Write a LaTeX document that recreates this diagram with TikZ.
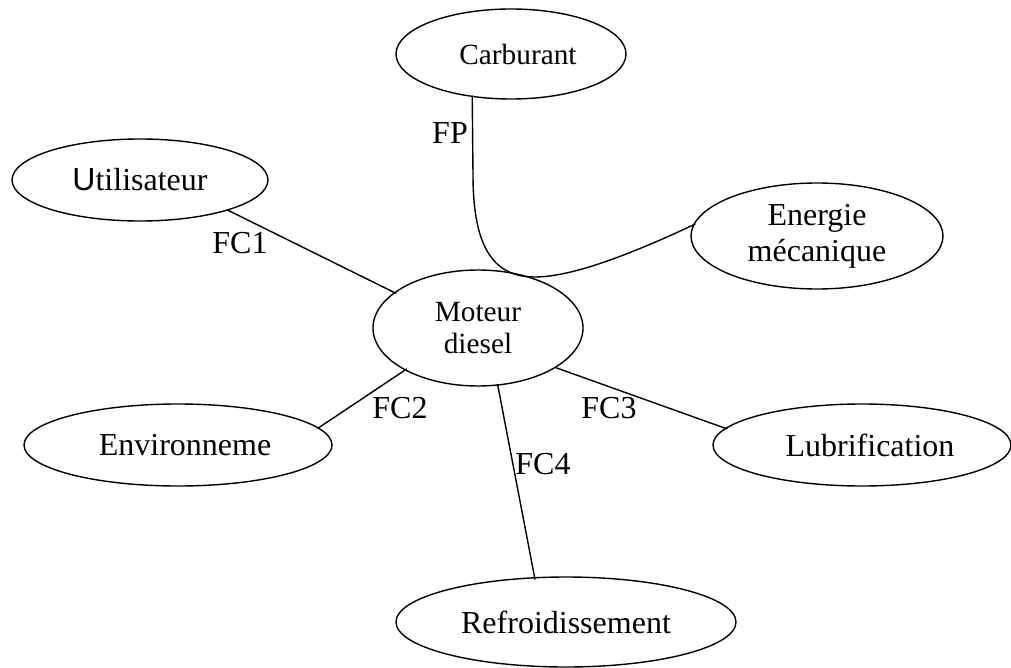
\documentclass[tikz,border=0pt]{standalone}
\usepackage{fontspec}
\setmainfont{Liberation Serif}
\newfontfamily\arialU{Liberation Sans}
\usetikzlibrary{shapes.geometric}
\begin{document}
\begin{tikzpicture}[x=1pt,y=-1pt,
  ell/.style={ellipse, draw, line width=1.4pt, inner sep=0pt, align=center,
              font=\fontsize{32}{36}\selectfont},
  small/.style={font=\fontsize{29.3}{31.5}\selectfont},
  conn/.style={line width=1.4pt, shorten <=-1.5pt, shorten >=-2.5pt},
  lbl/.style={font=\fontsize{32}{36}\selectfont, inner sep=0pt}]
\useasboundingbox (0,0) rectangle (1011,668);

\node[ell, small, minimum width=230pt, minimum height=90pt] (carb) at (511,54) {\hspace*{14pt}Carburant};
\node[ell, minimum width=256pt, minimum height=82pt] (util) at (140,180) {{\arialU U}tilisateur};
\node[ell, minimum width=252pt, minimum height=106pt] (en) at (817,236) {Energie\\mécanique};
\node[ell, small, minimum width=210pt, minimum height=116pt] (mot) at (478,328) {Moteur\\diesel};
\node[ell, minimum width=308pt, minimum height=82pt] (env) at (178,445) {\hspace*{14pt}Environneme};
\node[ell, minimum width=298pt, minimum height=82pt] (lub) at (862,445) {\hspace*{16pt}Lubrification};
\node[ell, minimum width=340pt, minimum height=90pt] (ref) at (566,622) {Refroidissement};

\draw[conn] (util.-19) -- (mot.157);
\draw[conn] (env.7) -- (mot.210);
\draw[conn] (mot.-27.5) -- (lub.173);
\draw[conn] (mot.-71.6) -- (ref.125);
\draw[conn] (carb.228) -- (473,175) .. controls (473,250) and (495,277) .. (535,277)
      .. controls (575,277) and (640,250) .. (en.175);

\node[lbl] (fp) at (450,133) {FP};
\node[lbl] (fc1) at (240,243) {FC1};
\node[lbl] (fc2) at (400,408) {FC2};
\node[lbl] (fc3) at (609,408) {FC3};
\node[lbl] (fc4) at (543,464) {FC4};
\end{tikzpicture}
\end{document}
